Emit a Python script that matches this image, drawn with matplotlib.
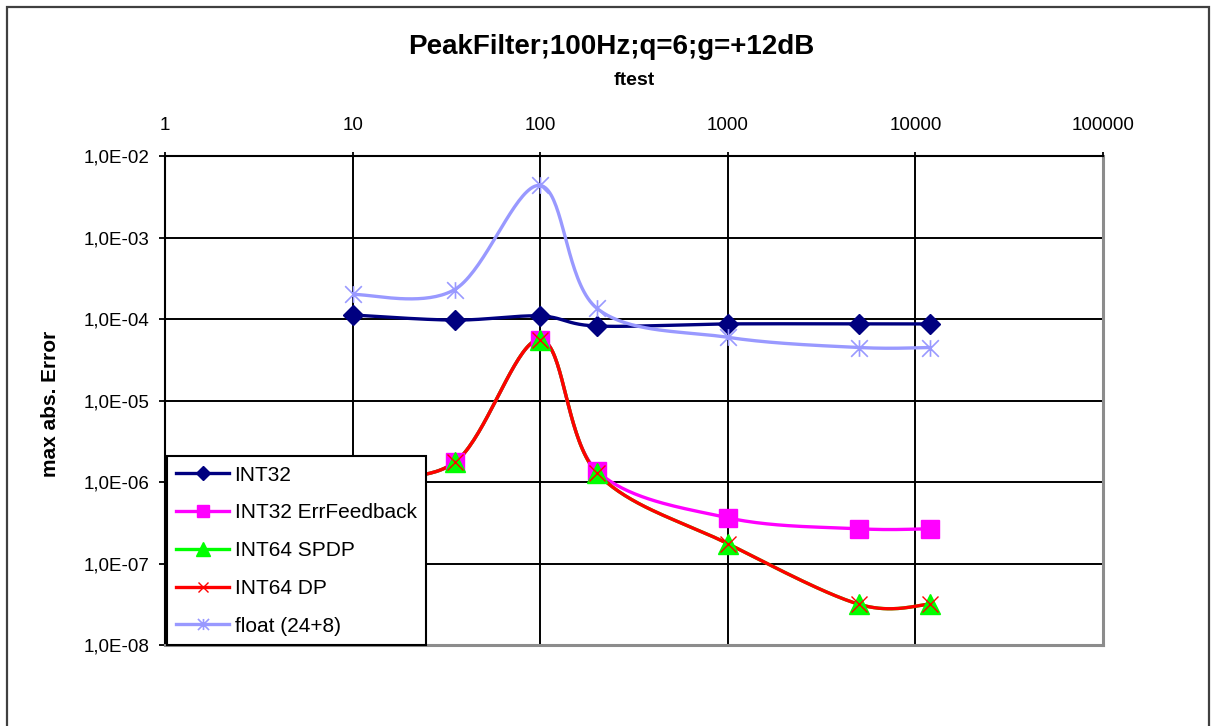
import numpy as np
import matplotlib
matplotlib.use('Agg')
import matplotlib.pyplot as plt
from matplotlib.path import Path
from matplotlib.patches import Rectangle

plt.rcParams['font.family'] = ['Liberation Sans', 'DejaVu Sans']

# data
ftest = [10, 35, 100, 200, 1000, 5000, 12000]
int32 = [1.12e-4, 9.7e-5, 1.09e-4, 8.2e-5, 8.7e-5, 8.7e-5, 8.7e-5]
int32_errfb = [1.2e-6, 1.74e-6, 5.6e-5, 1.38e-6, 3.64e-7, 2.67e-7, 2.67e-7]
int64_spdp = [1.2e-6, 1.74e-6, 5.6e-5, 1.3e-6, 1.75e-7, 3.16e-8, 3.16e-8]
int64_dp = [1.2e-6, 1.74e-6, 5.6e-5, 1.3e-6, 1.75e-7, 3.16e-8, 3.16e-8]
float_24_8 = [2.0e-4, 2.3e-4, 4.35e-3, 1.36e-4, 5.96e-5, 4.47e-5, 4.47e-5]

series_names = ['INT32', 'INT32 ErrFeedback', 'INT64 SPDP', 'INT64 DP', 'float (24+8)']
x_ticks = [1, 10, 100, 1000, 10000, 100000]
x_tick_labels = ['1', '10', '100', '1000', '10000', '100000']
y_ticks = [1e-8, 1e-7, 1e-6, 1e-5, 1e-4, 1e-3, 1e-2]
y_tick_labels = ['1,0E-08', '1,0E-07', '1,0E-06', '1,0E-05', '1,0E-04', '1,0E-03', '1,0E-02']


def smooth(x, y, n=40):
    # Excel-like smoothed line: Catmull-Rom bezier in log space
    lx = np.log10(x)
    ly = np.log10(y)
    p = np.column_stack([lx, ly])
    pts = [p[0]] + list(p) + [p[-1]]
    out = []
    t = np.linspace(0, 1, n)[:, None]
    for i in range(1, len(pts) - 2):
        p0, p1, p2, p3 = pts[i - 1], pts[i], pts[i + 1], pts[i + 2]
        c1 = p1 + (p2 - p0) / 6
        c2 = p2 - (p3 - p1) / 6
        seg = ((1 - t) ** 3) * p1 + 3 * ((1 - t) ** 2) * t * c1 + 3 * (1 - t) * t ** 2 * c2 + t ** 3 * p2
        out.append(seg if i == 1 else seg[1:])
    out = np.vstack(out)
    return 10 ** out[:, 0], 10 ** out[:, 1]


asterisk = Path([(-0.5, -0.5), (0.5, 0.5), (-0.5, 0.5), (0.5, -0.5), (0, -0.5), (0, 0.5)],
                [Path.MOVETO, Path.LINETO] * 3)

styles = [
    dict(color='#000080', marker='D', ms=10.5, mfc='#000080', mec='#000080', mew=1, lms=7),
    dict(color='#FF00FF', marker='s', ms=13, mfc='#FF00FF', mec='#FF00FF', mew=1, lms=8.5),
    dict(color='#00FF00', marker='^', ms=14, mfc='#00FF00', mec='#00FF00', mew=1, lms=9.5),
    dict(color='#FF0000', marker='x', ms=11, mfc='#FF0000', mec='#FF0000', mew=1, lms=7.5),
    dict(color='#9999FF', marker=asterisk, ms=12, mfc='none', mec='#9999FF', mew=1.2, lms=8),
]
all_y = [int32, int32_errfb, int64_spdp, int64_dp, float_24_8]

fig = plt.figure(figsize=(12.11, 7.26), dpi=100)
ax = fig.add_axes([0.13625, 0.11157, 0.77457, 0.67355])

handles = []
for name, yv, st in zip(series_names, all_y, styles):
    sx, sy = smooth(ftest, yv)
    line_col = st['color']
    ax.plot(sx, sy, color=line_col, lw=2.4, zorder=3, solid_capstyle='butt')
    ax.plot(ftest, yv, ls='none', marker=st['marker'], ms=st['ms'], mfc=st['mfc'],
            mec=st['mec'], mew=st['mew'], zorder=4)
    h, = ax.plot([], [], color=line_col, lw=2.4, marker=st['marker'], ms=st['lms'],
                 mfc=st['mfc'], mec=st['mec'], mew=st['mew'], label=name)
    handles.append(h)

ax.set_xscale('log')
ax.set_yscale('log')
ax.set_xlim(1, 100000)
ax.set_ylim(1e-8, 1e-2)
ax.xaxis.tick_top()
ax.set_xticks(x_ticks)
ax.set_xticklabels(x_tick_labels)
ax.set_yticks(y_ticks)
ax.set_yticklabels(y_tick_labels)
ax.minorticks_off()
ax.tick_params(axis='x', which='major', direction='out', length=3, width=1.3, pad=13,
               labelsize=13.5, colors='black')
ax.tick_params(axis='y', which='major', direction='out', length=4.5, width=1.3, pad=7,
               labelsize=13.5, colors='black')
ax.grid(True, which='major', color='black', lw=1.4, zorder=1)
ax.set_axisbelow(True)

for side in ['left', 'top']:
    ax.spines[side].set_color('black')
    ax.spines[side].set_linewidth(1.5)
for side in ['right', 'bottom']:
    ax.spines[side].set_color('#8c8c8c')
    ax.spines[side].set_linewidth(2.2)

leg = ax.legend(handles=handles, loc='lower left', bbox_to_anchor=(0.002, 0.0),
                borderaxespad=0, fontsize=15, frameon=True, fancybox=False,
                edgecolor='black', framealpha=1, handlelength=2.55, handletextpad=0.25,
                labelspacing=0.9, borderpad=0.45)
leg.get_frame().set_linewidth(1.5)
leg.set_zorder(10)

fig.text(0.5045, 0.935, 'PeakFilter;100Hz;q=6;g=+12dB', ha='center', va='center',
         fontsize=20, fontweight='bold')
fig.text(0.5235, 0.889, 'ftest', ha='center', va='center', fontsize=14, fontweight='bold')
fig.text(0.042, 0.4435, 'max abs. Error', ha='center', va='center', rotation=90,
         fontsize=15, fontweight='bold')

fig.patches.append(Rectangle((7 / 1211, -0.05), (1209 - 7) / 1211, 1.05 - 7 / 726,
                             transform=fig.transFigure, fill=False, edgecolor='#404040',
                             lw=1.6, clip_on=False))

fig.savefig('out.png', dpi=100, facecolor='white')
